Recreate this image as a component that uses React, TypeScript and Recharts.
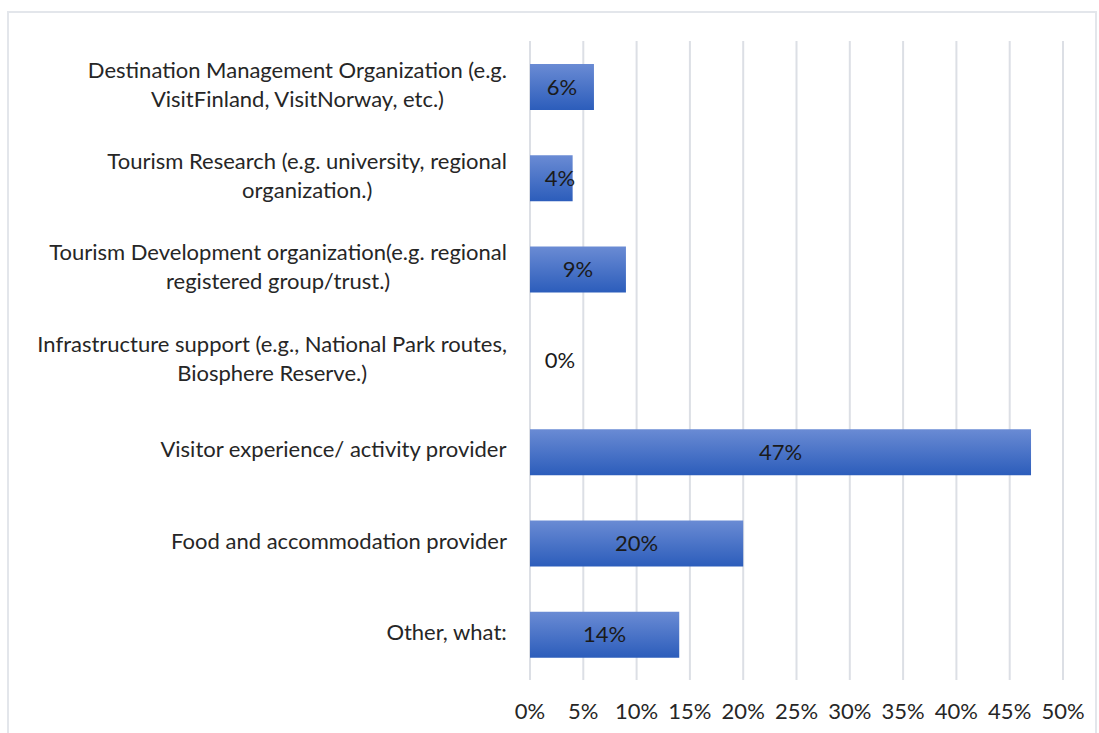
import { Bar, BarChart, CartesianGrid, LabelList, XAxis, YAxis } from "recharts";

const categories = [
    "Destination Management Organization (e.g.\nVisitFinland, VisitNorway, etc.)",
    "Tourism Research (e.g. university, regional\norganization.)",
    "Tourism Development organization(e.g. regional\nregistered group/trust.)",
    "Infrastructure support (e.g., National Park routes,\nBiosphere Reserve.)",
    "Visitor experience/ activity provider",
    "Food and accommodation provider",
    "Other, what:",
];
const shares = [6, 4, 9, 0, 47, 20, 14];
const xTicks = [0, 5, 10, 15, 20, 25, 30, 35, 40, 45, 50];

const data = categories.map((name, i) => ({ name, value: shares[i] }));

const FONT = "Lato, 'Open Sans', sans-serif";
const FONT_SIZE = 22;

// measure text so wrapped lines can be centred inside a right-aligned block
let ctx: CanvasRenderingContext2D | null = null;
function textWidth(s: string) {
    if (!ctx) ctx = document.createElement("canvas").getContext("2d");
    if (!ctx) return s.length * 10;
    ctx.font = `${FONT_SIZE}px Lato`;
    return ctx.measureText(s).width;
}

function CategoryTick({ x, y, payload }: any) {
    const lines = String(payload.value).split("\n");
    const lh = 29;
    const start = y - ((lines.length - 1) * lh) / 2;
    const maxW = Math.max(...lines.map(textWidth));
    const cx = x - maxW / 2;
    return (
        <text textAnchor='middle' fontFamily={FONT} fontSize={FONT_SIZE} fill='#262626'>
            {lines.map((l, i) => (
                <tspan key={i} x={cx} y={start + i * lh} dominantBaseline='middle'>
                    {l}
                </tspan>
            ))}
        </text>
    );
}

function PercentTick({ x, y, payload }: any) {
    return (
        <text x={x} y={y + 25} textAnchor='middle' dominantBaseline='middle' fontFamily={FONT} fontSize={FONT_SIZE} fill='#262626'>
            {payload.value}%
        </text>
    );
}

function BarLabel({ x, y, width, height, value }: any) {
    const w = width || 0;
    const cx = Math.max(x + w / 2, x + 30);
    return (
        <text x={cx} y={y + height / 2 + 2} textAnchor='middle' dominantBaseline='middle' fontFamily={FONT} fontSize={FONT_SIZE} fill='#1a1a1a'>
            {value}%
        </text>
    );
}

export default function App() {
    return (
        <div
            style={{
                position: "absolute",
                left: 7,
                top: 11,
                width: 1086,
                height: 722,
                borderTop: "2px solid #e3e6eb",
                borderLeft: "2px solid #e3e6eb",
                borderRight: "2px solid #e3e6eb",
                background: "#fff",
            }}
        >
            <BarChart
                width={1086}
                height={720}
                data={data}
                layout='vertical'
                margin={{ top: 28, right: 32, left: 0, bottom: 0 }}
            >
                <defs>
                    <linearGradient id='barFill' x1='0' y1='0' x2='0' y2='1'>
                        <stop offset='0%' stopColor='#6a8bd4' />
                        <stop offset='100%' stopColor='#2c5dbb' />
                    </linearGradient>
                </defs>
                <CartesianGrid horizontal={false} stroke='#dcdfe5' strokeWidth={2} />
                <XAxis
                    type='number'
                    domain={[0, 50]}
                    ticks={xTicks}
                    axisLine={false}
                    tickLine={false}
                    height={53}
                    tick={<PercentTick />}
                />
                <YAxis
                    type='category'
                    dataKey='name'
                    width={521}
                    axisLine={false}
                    tickLine={false}
                    tickSize={0}
                    tickMargin={23}
                    interval={0}
                    tick={<CategoryTick />}
                />
                <Bar dataKey='value' fill='url(#barFill)' barSize={46} minPointSize={0.01} isAnimationActive={false}>
                    <LabelList dataKey='value' content={<BarLabel />} />
                </Bar>
            </BarChart>
        </div>
    );
}
